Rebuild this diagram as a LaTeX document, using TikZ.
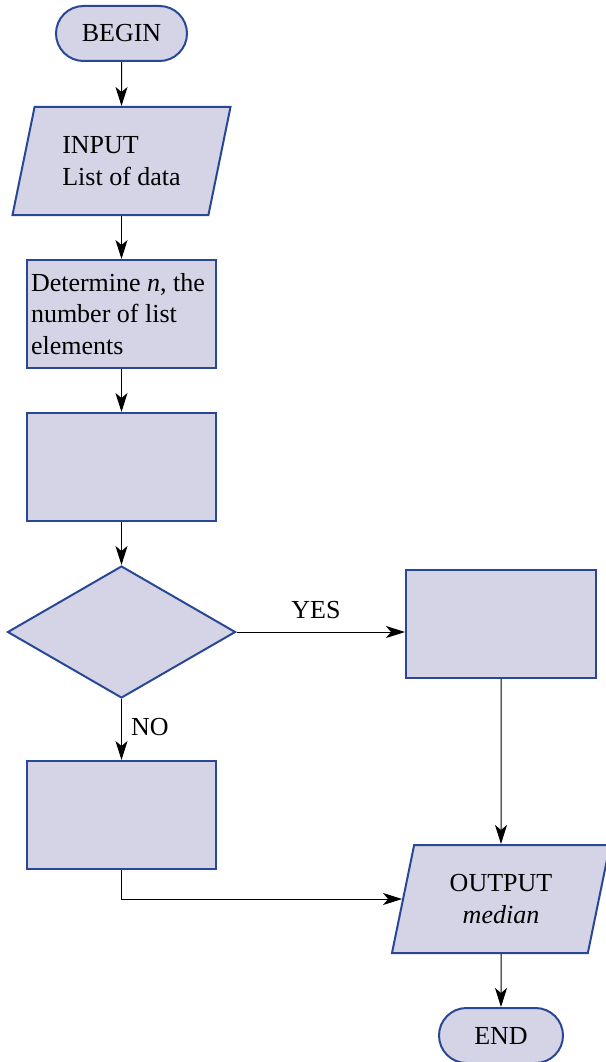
\documentclass[tikz,border=0pt]{standalone}
\usepackage{fontspec}
\setmainfont{Liberation Serif}
\usetikzlibrary{shapes.geometric,shapes.misc,arrows.meta}
\definecolor{boxfill}{RGB}{212,212,230}
\definecolor{boxline}{RGB}{40,72,150}
\tikzset{
  base/.style={draw=boxline,fill=boxfill,line width=2pt,inner sep=4pt,font=\fontsize{26}{31.5}\selectfont},
  term/.style={base,rounded rectangle,minimum width=#1,minimum height=55pt},
  para/.style={base,trapezium,trapezium left angle=68.75,trapezium right angle=111.25,
    trapezium stretches body,minimum width=218pt,minimum height=108pt},
  stepbox/.style={base,rectangle,minimum width=189pt,minimum height=108pt},
  decision/.style={base,diamond,minimum width=228pt,minimum height=132pt},
  conn/.style={black,line width=1pt,-{Stealth[length=19pt,width=12pt,inset=5pt]}},
  lbl/.style={font=\fontsize{26}{31.5}\selectfont,inner sep=0pt}
}
\begin{document}
\begin{tikzpicture}[x=1pt,y=-1pt]
\useasboundingbox (0,0) rectangle (605,1062);
\node[term=139pt] (begin) at (121.5,33.5) {BEGIN};
\node[para,align=left] (input) at (121.5,161) {INPUT\\List of data};
\node[stepbox,text width=181pt,align=flush left] (det) at (121.5,314) {Determine \textit{n}, the\\number of list\\elements};
\node[stepbox] (b2) at (121.5,467) {};
\node[decision] (dec) at (121.5,632) {};
\node[stepbox,minimum width=190pt] (yes) at (501,624) {};
\node[stepbox] (b4) at (121.5,815) {};
\node[para,align=center] (out) at (501,899) {OUTPUT\\\textit{median}};
\node[term=132pt] (end) at (501,1035.5) {END};
\node[lbl] (yeslbl) at (316,610) {YES};
\node[lbl,anchor=west] (nolbl) at (131,727) {NO};
\draw[conn] (begin) -- (input);
\draw[conn] (input) -- (det);
\draw[conn] (det) -- (b2);
\draw[conn] (b2) -- (dec);
\draw[conn] (dec.east) -- (yes.west |- dec.east);
\draw[conn] (dec.south) -- (b4.north);
\draw[conn] (yes.south) -- (out.north);
\draw[conn] (b4.south) |- (out.west);
\draw[conn] (out.south) -- (end.north);
\end{tikzpicture}
\end{document}
